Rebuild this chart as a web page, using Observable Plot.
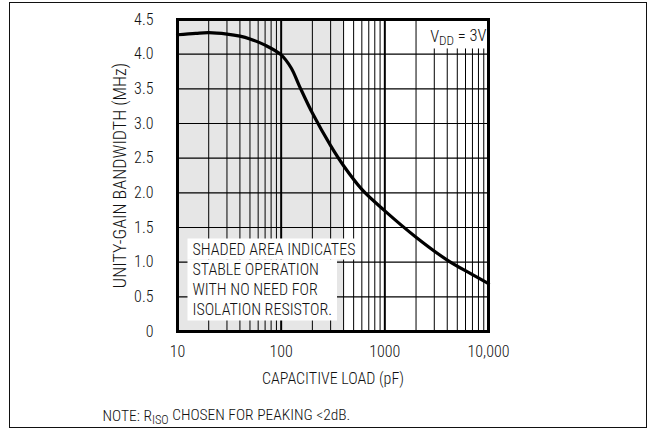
<!DOCTYPE html>
<html><head><meta charset="utf-8">
<script src="https://cdn.jsdelivr.net/npm/d3@7"></script>
<script src="https://cdn.jsdelivr.net/npm/@observablehq/plot@0.6"></script>
<style>
body{margin:0;background:#fff;}
#wrap{position:relative;width:650px;height:431px;}
#border{position:absolute;left:9px;top:2px;width:636px;height:424px;border:1.5px solid #111;pointer-events:none;}
svg text{font-family:Roboto,sans-serif;font-stretch:condensed;font-weight:300;}
</style></head><body><div id="wrap"><div id="border"></div></div>
<script>
// Data
const capacitance = [10,15,20,30,40,50,70,100,125,150,200,300,400,600,1000,2000,4000,7000,10000];
const bandwidth   = [4.28,4.30,4.31,4.29,4.26,4.22,4.13,3.99,3.80,3.54,3.15,2.68,2.39,2.05,1.74,1.36,1.03,0.82,0.69];
const shadedRange = [10, 400];
const xTicks = [10, 100, 1000, 10000];
const xTickLabels = ["10", "100", "1000", "10,000"];
const yTicks = [0, 0.5, 1, 1.5, 2, 2.5, 3, 3.5, 4, 4.5];
const yTickLabels = ["0", "0.5", "1.0", "1.5", "2.0", "2.5", "3.0", "3.5", "4.0", "4.5"];
const minorGrid = [20,30,40,50,60,70,80,90,200,300,400,500,600,700,800,900,2000,3000,4000,5000,6000,7000,8000,9000];
const decadeGrid = [100, 1000];
const noteLines = ["SHADED AREA INDICATES","STABLE OPERATION","WITH NO NEED FOR","ISOLATION RESISTOR."];
const vddLabel = "VDD = 3V";
const footNote = "NOTE: RISO CHOSEN FOR PEAKING <2dB.";
const xTitle = "CAPACITIVE LOAD (pF)";
const yTitle = "UNITY-GAIN BANDWIDTH (MHz)";

const curve = capacitance.map((c, i) => ({c, bw: bandwidth[i]}));
const FS = 16;

const svg = Plot.plot({
  width: 650, height: 431,
  marginLeft: 177, marginRight: 162, marginTop: 19, marginBottom: 100,
  style: {fontSize: FS + "px", fontFamily: "Roboto, sans-serif", fontStretch: "condensed", fontWeight: 300, color: "#111", background: "white"},
  x: {type: "log", domain: [10, 10000]},
  y: {domain: [0, 4.5]},
  marks: [
    Plot.rect([shadedRange], {x1: d => d[0], x2: d => d[1], y1: 0, y2: 4.5, fill: "#e6e6e6"}),
    Plot.ruleX(minorGrid, {stroke: "#000", strokeWidth: 1}),
    Plot.ruleX(decadeGrid, {stroke: "#000", strokeWidth: 2}),
    Plot.ruleY(yTicks, {stroke: "#000", strokeWidth: 1.2}),
    Plot.line(curve, {x: "c", y: "bw", stroke: "#000", strokeWidth: 3.2, curve: "catmull-rom"}),
    ...noteLines.map((line, i) => Plot.text([line], {
      frameAnchor: "top-left", dx: 15, dy: 235 + i * 20, lineAnchor: "bottom", textAnchor: "start",
      fontSize: FS, fill: "#111", className: "shade-note"
    })),
    Plot.text([vddLabel], {frameAnchor: "top-right", dx: -2, dy: 22, lineAnchor: "bottom", textAnchor: "end", fontSize: FS + 0.5, fill: "#111", className: "vdd"}),
    Plot.text([footNote], {frameAnchor: "bottom-left", dx: -75, dy: 89, lineAnchor: "bottom", textAnchor: "start", fontSize: 15.5, fill: "#111", className: "foot"}),
    Plot.axisX({ticks: xTicks, tickSize: 0, tickPadding: 14, tickFormat: d => xTickLabels[xTicks.indexOf(d)], fontSize: FS,
      label: xTitle, labelAnchor: "center", labelArrow: "none", labelOffset: 52}),
    Plot.axisY({ticks: yTicks, tickSize: 0, tickPadding: 24, tickFormat: d => yTickLabels[yTicks.indexOf(d)], fontSize: FS,
      label: yTitle, labelAnchor: "center", labelArrow: "none", labelOffset: 64}),
    Plot.frame({stroke: "#000", strokeWidth: 3})
  ]
});
document.getElementById("wrap").prepend(svg);

// Larger y-axis title, as in the reference
svg.querySelectorAll('g[aria-label="y-axis label"] text').forEach(t => t.setAttribute("font-size", 18));

// Subscripts
function subscriptify(textEl, base, sub, rest) {
  const t = d3.select(textEl);
  t.text(null);
  t.append("tspan").text(base);
  t.append("tspan").attr("dy", "0.3em").attr("font-size", "0.8em").text(sub);
  t.append("tspan").attr("dy", "-0.3em").text(rest);
}
const vddText = svg.querySelector(".vdd text");
subscriptify(vddText, "V", "DD", " = 3V");
const footText = svg.querySelector(".foot text");
subscriptify(footText, "NOTE: R", "ISO", " CHOSEN FOR PEAKING <2dB.");

// White backgrounds behind annotations, sized from the rendered text (in svg coordinates)
function box(t) {
  const b = t.getBBox(), m = t.getCTM();
  return {x: b.x + m.e, y: b.y + m.f, w: b.width, h: b.height};
}
const plotRight = 650 - 162, plotTop = 19;
function insertRect(beforeNode, x, y, w, h) {
  const r = document.createElementNS("http://www.w3.org/2000/svg", "rect");
  r.setAttribute("x", x); r.setAttribute("y", y); r.setAttribute("width", w); r.setAttribute("height", h);
  r.setAttribute("fill", "white");
  beforeNode.parentNode.insertBefore(r, beforeNode);
}
const noteTexts = Array.from(svg.querySelectorAll(".shade-note text"));
const boxes = noteTexts.map(box);
const firstG = svg.querySelector(".shade-note");
const left = Math.min(...boxes.map(b => b.x)) - 5;
insertRect(firstG, left, boxes[0].y - 1, boxes[0].x + boxes[0].w + 3 - left, boxes[0].h + 2);
const rest = boxes.slice(1);
const restRight = Math.max(...rest.map(b => b.x + b.w)) + 5;
const restTop = rest[0].y;
const restBottom = rest[rest.length - 1].y + rest[rest.length - 1].h + 2;
insertRect(firstG, left, restTop, restRight - left, restBottom - restTop);
const vb = box(vddText);
insertRect(svg.querySelector(".vdd"), vb.x - 8, plotTop, plotRight - (vb.x - 8), vb.y + vb.h - plotTop);
</script></body></html>
